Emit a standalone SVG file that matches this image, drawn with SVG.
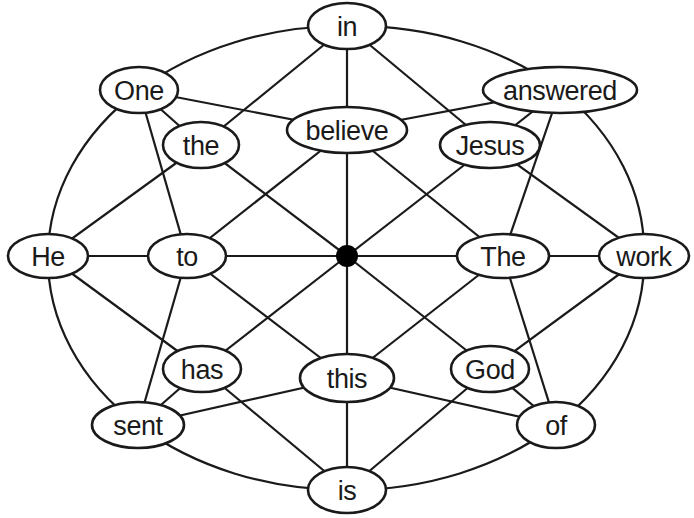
<svg xmlns="http://www.w3.org/2000/svg" width="694" height="518" viewBox="0 0 694 518">
<style>
.e{stroke:#1a1a1a;stroke-width:2.2;fill:none}
.n ellipse{fill:#fff;stroke:#1a1a1a;stroke-width:2.6}
.n text{font-family:"Liberation Sans",Arial,sans-serif;font-size:27px;letter-spacing:-0.4px;fill:#1a1a1a;text-anchor:middle}
</style>
<rect width="694" height="518" fill="#fff"/>
<g id="connectors" class="e">
<path d="M347,26 A298,232 0 0 1 560,90"/>
<path d="M560,90 A298,232 0 0 1 644,256"/>
<path d="M644,256 A298,232 0 0 1 556,425"/>
<path d="M556,425 A298,232 0 0 1 347,490"/>
<path d="M347,490 A298,232 0 0 1 138,425"/>
<path d="M138,425 A298,232 0 0 1 48,256"/>
<path d="M48,256 A298,232 0 0 1 139,90"/>
<path d="M139,90 A298,232 0 0 1 347,26"/>
<line x1="347" y1="26" x2="347" y2="490"/>
<line x1="48" y1="256" x2="644" y2="256"/>
<line x1="201" y1="145" x2="347" y2="256"/>
<line x1="490" y1="145" x2="347" y2="256"/>
<line x1="202" y1="369" x2="347" y2="256"/>
<line x1="490" y1="369" x2="347" y2="256"/>
<line x1="201" y1="145" x2="347" y2="26"/>
<line x1="201" y1="145" x2="139" y2="90"/>
<line x1="201" y1="145" x2="48" y2="256"/>
<line x1="490" y1="145" x2="347" y2="26"/>
<line x1="490" y1="145" x2="560" y2="90"/>
<line x1="490" y1="145" x2="644" y2="256"/>
<line x1="202" y1="369" x2="48" y2="256"/>
<line x1="202" y1="369" x2="138" y2="425"/>
<line x1="202" y1="369" x2="347" y2="490"/>
<line x1="490" y1="369" x2="644" y2="256"/>
<line x1="490" y1="369" x2="556" y2="425"/>
<line x1="490" y1="369" x2="347" y2="490"/>
<line x1="347" y1="130" x2="139" y2="90"/>
<line x1="347" y1="130" x2="560" y2="90"/>
<line x1="347" y1="130" x2="187" y2="256"/>
<line x1="347" y1="130" x2="503" y2="256"/>
<line x1="187" y1="256" x2="139" y2="90"/>
<line x1="187" y1="256" x2="138" y2="425"/>
<line x1="187" y1="256" x2="347" y2="378"/>
<line x1="503" y1="256" x2="560" y2="90"/>
<line x1="503" y1="256" x2="556" y2="425"/>
<line x1="503" y1="256" x2="347" y2="378"/>
<line x1="347" y1="378" x2="138" y2="425"/>
<line x1="347" y1="378" x2="556" y2="425"/>
</g>
<g id="hub"><circle cx="347" cy="256" r="11" fill="#000"/></g>
<g id="n-in" class="n"><ellipse cx="347" cy="26" rx="39" ry="23"/><text x="347" y="36">in</text></g>
<g id="n-One" class="n"><ellipse cx="139" cy="90" rx="39" ry="23"/><text x="139" y="100">One</text></g>
<g id="n-answered" class="n"><ellipse cx="560" cy="90" rx="77" ry="23"/><text x="560" y="100">answered</text></g>
<g id="n-believe" class="n"><ellipse cx="347" cy="130" rx="60" ry="23"/><text x="347" y="140">believe</text></g>
<g id="n-the" class="n"><ellipse cx="201" cy="145" rx="38" ry="23"/><text x="201" y="155">the</text></g>
<g id="n-Jesus" class="n"><ellipse cx="490" cy="145" rx="50" ry="23"/><text x="490" y="155">Jesus</text></g>
<g id="n-He" class="n"><ellipse cx="48" cy="256" rx="40" ry="22"/><text x="48" y="266">He</text></g>
<g id="n-to" class="n"><ellipse cx="187" cy="256" rx="39" ry="22"/><text x="187" y="266">to</text></g>
<g id="n-The" class="n"><ellipse cx="503" cy="256" rx="46" ry="22"/><text x="503" y="266">The</text></g>
<g id="n-work" class="n"><ellipse cx="644" cy="256" rx="45" ry="22"/><text x="644" y="266">work</text></g>
<g id="n-has" class="n"><ellipse cx="202" cy="369" rx="39" ry="23"/><text x="202" y="379">has</text></g>
<g id="n-this" class="n"><ellipse cx="347" cy="378" rx="47" ry="24"/><text x="347" y="388">this</text></g>
<g id="n-God" class="n"><ellipse cx="490" cy="369" rx="39" ry="23"/><text x="490" y="379">God</text></g>
<g id="n-sent" class="n"><ellipse cx="138" cy="425" rx="46" ry="23"/><text x="138" y="435">sent</text></g>
<g id="n-of" class="n"><ellipse cx="556" cy="425" rx="39" ry="23"/><text x="556" y="435">of</text></g>
<g id="n-is" class="n"><ellipse cx="347" cy="490" rx="39" ry="23"/><text x="347" y="500">is</text></g>
</svg>
